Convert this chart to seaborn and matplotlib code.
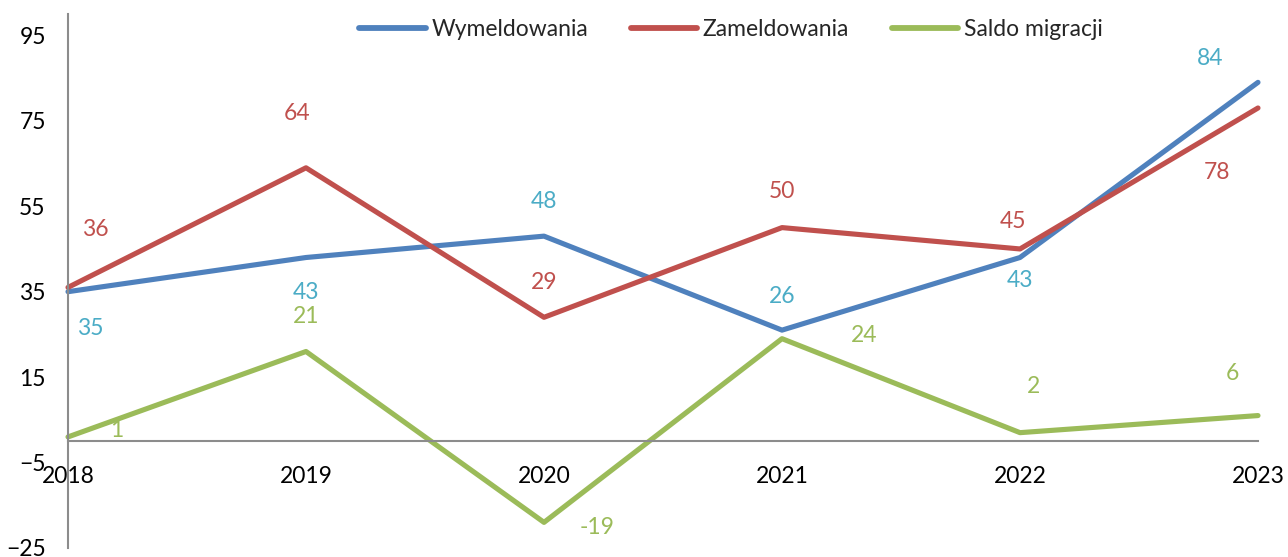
import matplotlib
matplotlib.use("Agg")
import matplotlib.pyplot as plt
import seaborn as sns
import pandas as pd

years = [2018, 2019, 2020, 2021, 2022, 2023]
wymeldowania = [35, 43, 48, 26, 43, 84]
zameldowania = [36, 64, 29, 50, 45, 78]
saldo = [1, 21, -19, 24, 2, 6]
series_names = ["Wymeldowania", "Zameldowania", "Saldo migracji"]
yticks = [95, 75, 55, 35, 15, -5, -25]

sns.set_theme(style="white")
plt.rcParams["font.family"] = ["Lato", "DejaVu Sans"]

df = pd.DataFrame({
    "rok": years * 3,
    "wartosc": wymeldowania + zameldowania + saldo,
    "seria": [series_names[0]] * 6 + [series_names[1]] * 6 + [series_names[2]] * 6,
})

line_colors = ["#4F81BD", "#C0504D", "#9BBB59"]
label_colors = ["#4BACC6", "#C0504D", "#9BBB59"]
fs = 16.5

fig = plt.figure(figsize=(12.88, 5.57), dpi=100)
ax = fig.add_axes([68 / 1288, 1 - 548 / 557, (1258 - 68) / 1288, (548 - 14) / 557])

sns.lineplot(data=df, x="rok", y="wartosc", hue="seria", palette=line_colors,
             linewidth=3.7, ax=ax, legend=True, solid_capstyle="round")

ax.set_xlim(2018, 2023)
ax.set_ylim(-25, 100)
ax.set_yticks(yticks)
ax.set_xticks(years)
ax.set_xticklabels([str(y) for y in years])
ax.set_xlabel("")
ax.set_ylabel("")

for s in ["top", "right"]:
    ax.spines[s].set_visible(False)
ax.spines["bottom"].set_position(("data", 0))
for s in ["left", "bottom"]:
    ax.spines[s].set_color("#8c8c8c")
    ax.spines[s].set_linewidth(1.5)
ax.tick_params(axis="both", length=0, labelsize=fs, colors="black")
ax.tick_params(axis="y", pad=16)
ax.tick_params(axis="x", pad=18)

# label offsets in pixels (dx, dy)
offsets = [
    [(22, -37), (0, -35), (0, 35), (0, 34), (0, -23), (-48, 24)],
    [(27, 58), (-9, 54), (0, 35), (0, 36), (-7, 27), (-41, -65)],
    [(49, 6), (0, 35), (53, -5), (82, 3), (13, 46), (-26, 42)],
]
all_series = [wymeldowania, zameldowania, saldo]
for vals, offs, col in zip(all_series, offsets, label_colors):
    for x, v, (dx, dy) in zip(years, vals, offs):
        ax.annotate(str(v), (x, v), xytext=(dx, dy), textcoords="offset pixels",
                    ha="center", va="center", color=col, fontsize=fs)

leg = ax.legend(loc="center", bbox_to_anchor=(731 / 1288, 1 - 30 / 557),
                bbox_transform=fig.transFigure, ncol=3, frameon=False, fontsize=fs,
                handlelength=2.9, columnspacing=1.85, handletextpad=0.25, title=None)
for h in leg.get_lines():
    h.set_linewidth(4.2)

for ln in ax.lines:
    ln.set_clip_on(False)

fig.savefig("out.png", dpi=100)
